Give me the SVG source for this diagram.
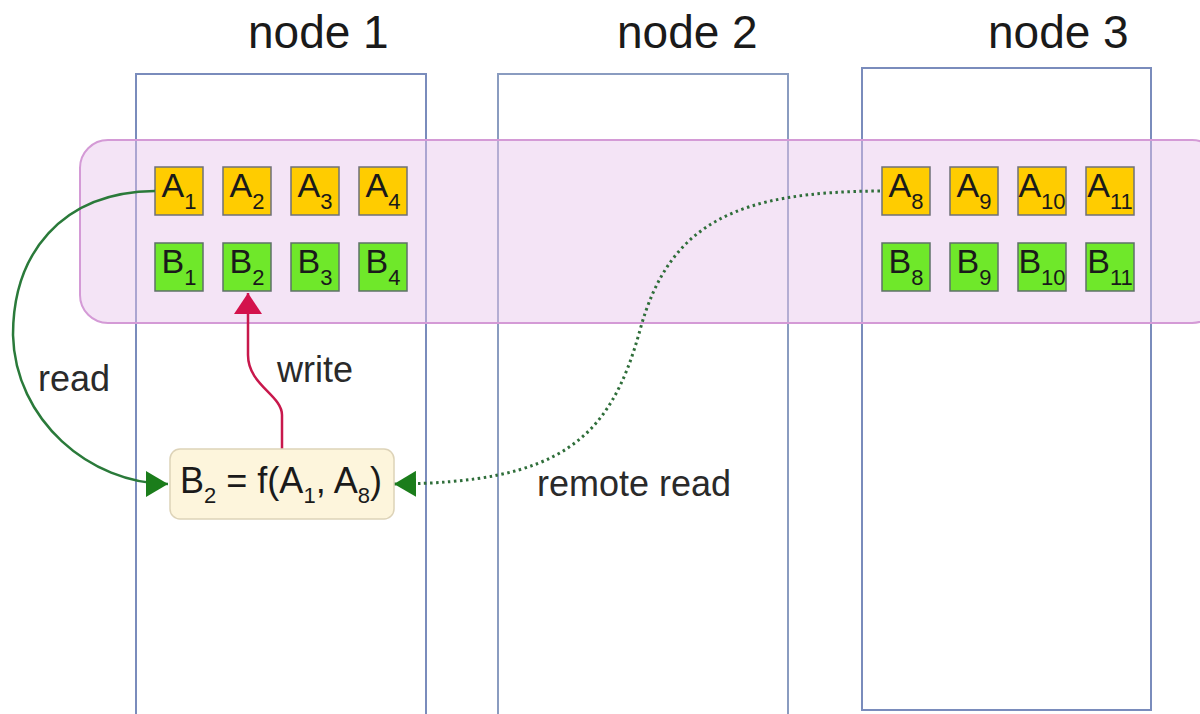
<svg xmlns="http://www.w3.org/2000/svg" width="1200" height="714" viewBox="0 0 1200 714">
<style>
.node{fill:#ffffff;stroke:#7a8cbc;stroke-width:2}
.band{fill:#e6c4ea;fill-opacity:0.45;stroke:#d49ad6;stroke-width:2}
.a{fill:#ffcc00;stroke:#6e7078;stroke-width:1.5}
.b{fill:#6fe82a;stroke:#5e7068;stroke-width:1.5}
.cell{font-family:"Liberation Sans",Arial,sans-serif;font-size:34px;fill:#1a1a1a;text-anchor:middle}
.sub{font-size:22px}
.title{font-family:"Liberation Sans",Arial,sans-serif;font-size:46px;fill:#1a1a1a}
.lbl{font-family:"Liberation Sans",Arial,sans-serif;font-size:36px;fill:#2a2a2a}
</style>
<defs>
<marker id="gArrow" markerUnits="userSpaceOnUse" markerWidth="24" markerHeight="26" refX="22" refY="13" orient="auto">
<path d="M0,0 L22,13 L0,26 Z" fill="#1b7d1b"/>
</marker>
<marker id="rArrow" markerUnits="userSpaceOnUse" markerWidth="22" markerHeight="28" refX="21" refY="14" orient="auto">
<path d="M0,0 L21,14 L0,28 Z" fill="#d3124c"/>
</marker>
</defs>

<g id="node1"><rect class="node" x="136" y="74" width="290" height="660"/><text class="title" x="248" y="48">node 1</text></g>
<g id="node2"><rect class="node" x="498" y="74" width="290" height="660" stroke-width="3" style="stroke:#8a9cc0"/><text class="title" x="617" y="48">node 2</text></g>
<g id="node3"><rect class="node" x="862" y="68" width="289" height="642"/><text class="title" x="988" y="48">node 3</text></g>

<g id="band"><rect class="band" x="80" y="140" width="1140" height="183" rx="28" ry="28"/></g>

<g id="A1"><rect class="a" x="155" y="167" width="48" height="48"/><text class="cell" x="179" y="197">A<tspan class="sub" dy="12">1</tspan></text></g>
<g id="A2"><rect class="a" x="223" y="167" width="48" height="48"/><text class="cell" x="247" y="197">A<tspan class="sub" dy="12">2</tspan></text></g>
<g id="A3"><rect class="a" x="291" y="167" width="48" height="48"/><text class="cell" x="315" y="197">A<tspan class="sub" dy="12">3</tspan></text></g>
<g id="A4"><rect class="a" x="359" y="167" width="48" height="48"/><text class="cell" x="383" y="197">A<tspan class="sub" dy="12">4</tspan></text></g>
<g id="B1"><rect class="b" x="155" y="243" width="48" height="48"/><text class="cell" x="179" y="273">B<tspan class="sub" dy="12">1</tspan></text></g>
<g id="B2"><rect class="b" x="223" y="243" width="48" height="48"/><text class="cell" x="247" y="273">B<tspan class="sub" dy="12">2</tspan></text></g>
<g id="B3"><rect class="b" x="291" y="243" width="48" height="48"/><text class="cell" x="315" y="273">B<tspan class="sub" dy="12">3</tspan></text></g>
<g id="B4"><rect class="b" x="359" y="243" width="48" height="48"/><text class="cell" x="383" y="273">B<tspan class="sub" dy="12">4</tspan></text></g>

<g id="A8"><rect class="a" x="882" y="167" width="48" height="48"/><text class="cell" x="906" y="197">A<tspan class="sub" dy="12">8</tspan></text></g>
<g id="A9"><rect class="a" x="950" y="167" width="48" height="48"/><text class="cell" x="974" y="197">A<tspan class="sub" dy="12">9</tspan></text></g>
<g id="A10"><rect class="a" x="1018" y="167" width="48" height="48"/><text class="cell" x="1042" y="197">A<tspan class="sub" dy="12">10</tspan></text></g>
<g id="A11"><rect class="a" x="1086" y="167" width="48" height="48"/><text class="cell" x="1110" y="197">A<tspan class="sub" dy="12">11</tspan></text></g>
<g id="B8"><rect class="b" x="882" y="243" width="48" height="48"/><text class="cell" x="906" y="273">B<tspan class="sub" dy="12">8</tspan></text></g>
<g id="B9"><rect class="b" x="950" y="243" width="48" height="48"/><text class="cell" x="974" y="273">B<tspan class="sub" dy="12">9</tspan></text></g>
<g id="B10"><rect class="b" x="1018" y="243" width="48" height="48"/><text class="cell" x="1042" y="273">B<tspan class="sub" dy="12">10</tspan></text></g>
<g id="B11"><rect class="b" x="1086" y="243" width="48" height="48"/><text class="cell" x="1110" y="273">B<tspan class="sub" dy="12">11</tspan></text></g>

<g id="connectors" fill="none">
<path d="M155,191 C60,192 13,255 13,335 C15,420 90,484 168,484" stroke="#2a7a3a" stroke-width="2.5" marker-end="url(#gArrow)"/>
<path d="M282,449 L282,415 C282,395 248,385 248,355 L248,293" stroke="#c8184c" stroke-width="2.5" marker-end="url(#rArrow)"/>
<path d="M880,191 C740,192 670,220 640,330 C610,440 560,483 394,484" stroke="#2f6e3a" stroke-width="3" stroke-dasharray="2.5 3.5" marker-end="url(#gArrow)"/>
</g>

<g id="formula"><rect x="170" y="449" width="224" height="70" rx="10" ry="10" fill="#fdf5dc" stroke="#ddd3b8" stroke-width="1.5"/>
<text class="lbl" x="281" y="493" text-anchor="middle" style="fill:#1a1a1a">B<tspan class="sub" dy="10">2</tspan><tspan dy="-10"> = f(A</tspan><tspan class="sub" dy="10">1</tspan><tspan dy="-10">, A</tspan><tspan class="sub" dy="10">8</tspan><tspan dy="-10">)</tspan></text></g>

<g id="labels">
<text class="lbl" x="38" y="391">read</text>
<text class="lbl" x="277" y="382">write</text>
<text class="lbl" x="537" y="496">remote read</text>
</g>
</svg>
